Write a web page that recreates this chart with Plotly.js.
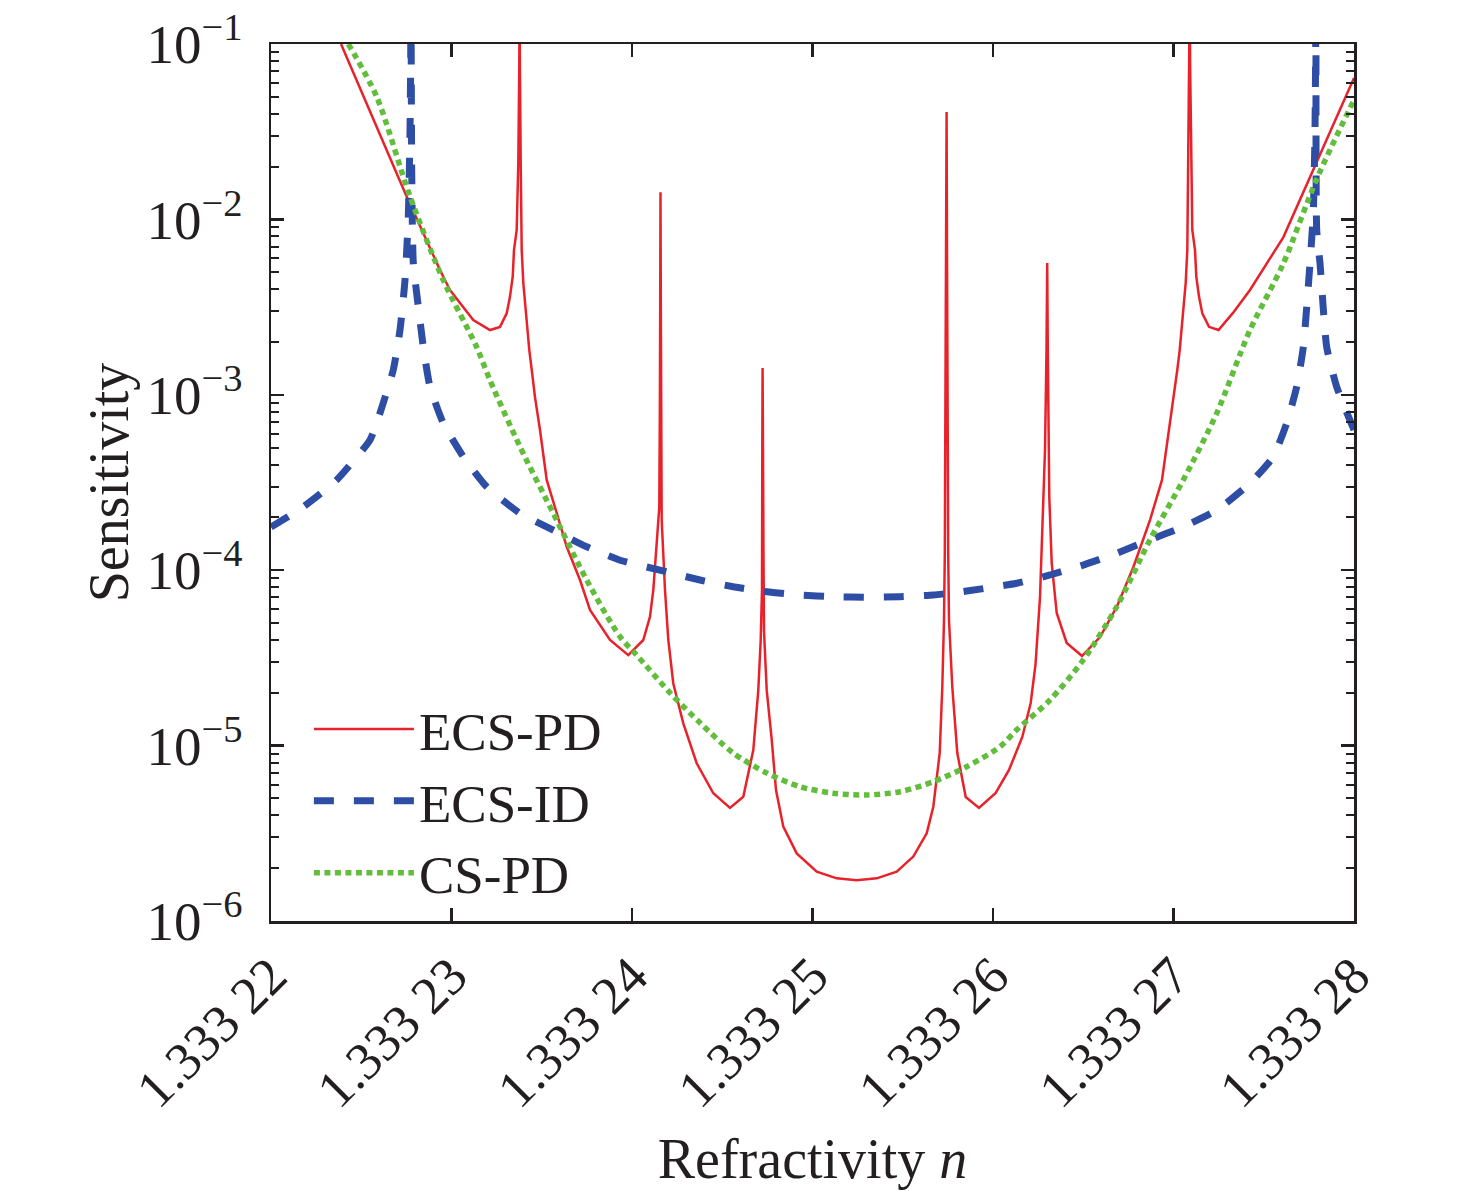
<!DOCTYPE html>
<html>
<head>
<meta charset="utf-8">
<script src="https://cdn.plot.ly/plotly-3.0.1.min.js"></script>
<style>
  html, body { margin: 0; padding: 0; background: #fff; }
  #graph { width: 1476px; height: 1191px; }
</style>
</head>
<body>
<div id="graph"></div>
<script>
// refractivity n (x) and sensitivity (y)
var ecsPdN = [
  1.333223878, 1.333225651, 1.333227424, 1.333229363, 1.333229917, 1.333230471, 1.333231208,
  1.333232133, 1.333232687, 1.333233058, 1.333233241, 1.333233391, 1.333233463, 1.333233612,
  1.333233701, 1.333233756, 1.333233773, 1.333233789, 1.333233834, 1.333233889, 1.333233978,
  1.333234127, 1.333234310, 1.333234443, 1.333234626, 1.333234903, 1.333235274, 1.333235828,
  1.333236382, 1.333237119, 1.333237673, 1.333238781, 1.333239795, 1.333240626, 1.333240997,
  1.333241180, 1.333241368, 1.333241512, 1.333241546, 1.333241568, 1.333241579, 1.333241596,
  1.333241618, 1.333241645, 1.333241828, 1.333242011, 1.333242288, 1.333242842, 1.333243584,
  1.333244504, 1.333245429, 1.333246166, 1.333246720, 1.333246997, 1.333247130, 1.333247202,
  1.333247219, 1.333247235, 1.333247258, 1.333247285, 1.333247313, 1.333247463, 1.333247740,
  1.333247978, 1.333248382, 1.333249125, 1.333250233, 1.333251341, 1.333252449, 1.333253557,
  1.333254665, 1.333255584, 1.333256327, 1.333256693, 1.333256970, 1.333257047, 1.333257191,
  1.333257285, 1.333257330, 1.333257374, 1.333257407, 1.333257429, 1.333257452, 1.333257479,
  1.333257518, 1.333257562, 1.333257745, 1.333258022, 1.333258488, 1.333259224, 1.333260150,
  1.333260886, 1.333261623, 1.333262089, 1.333262355, 1.333262604, 1.333262770, 1.333262881,
  1.333262964, 1.333263003, 1.333263036, 1.333263075, 1.333263119, 1.333263252, 1.333263529,
  1.333264083, 1.333264931, 1.333265928, 1.333266853, 1.333267773, 1.333268698, 1.333269363,
  1.333269751, 1.333270028, 1.333270211, 1.333270344, 1.333270526, 1.333270676, 1.333270765,
  1.333270831, 1.333270886, 1.333270903, 1.333270920, 1.333270970, 1.333271042, 1.333271191,
  1.333271263, 1.333271413, 1.333271596, 1.333271967, 1.333272493, 1.333273296, 1.333274238,
  1.333276083, 1.333277934, 1.33328
];
var ecsPdS = [
  1.0e-1, 3.8e-2, 1.42e-2, 5.14e-3, 3.96e-3, 3.34e-3, 2.67e-3,
  2.34e-3, 2.44e-3, 2.91e-3, 3.63e-3, 4.71e-3, 6.7e-3, 8.7e-3,
  2.1e-2, 7.8e-2, 2.0e-1, 7.8e-2, 2.1e-2, 6.7e-3, 4.34e-3,
  2.79e-3, 1.8e-3, 1.39e-3, 9.7e-4, 6.3e-4, 3.27e-4, 2.12e-4,
  1.36e-4, 8.79e-5, 5.93e-5, 4.0e-5, 3.28e-5, 4.0e-5, 5.43e-5,
  7.71e-5, 1.36e-4, 2.29e-4, 9.34e-4, 3.47e-3, 1.43e-2, 3.47e-3,
  9.34e-4, 1.93e-4, 7.7e-5, 4.0e-5, 2.26e-5, 1.34e-5, 7.93e-6,
  5.35e-6, 4.41e-6, 5.11e-6, 9.44e-6, 2.07e-5, 4.0e-5, 7.7e-5,
  4.84e-4, 1.42e-3, 4.84e-4, 1.25e-4, 4.5e-5, 2.07e-5, 1.08e-5,
  5.58e-6, 3.45e-6, 2.43e-6, 1.91e-6, 1.75e-6, 1.71e-6, 1.75e-6,
  1.91e-6, 2.33e-6, 3.16e-6, 4.48e-6, 8.28e-6, 9.07e-6, 2.16e-5,
  5.2e-5, 1.25e-4, 9.34e-4, 6.7e-3, 4.1e-2, 6.7e-3, 9.34e-4,
  1.25e-4, 5.2e-5, 2.16e-5, 9.07e-6, 5.09e-6, 4.41e-6, 5.37e-6,
  7.26e-6, 1.12e-5, 1.75e-5, 2.9e-5, 7.0e-5, 2.0e-4, 4.84e-4,
  1.8e-3, 5.64e-3, 1.8e-3, 4.84e-4, 2.61e-4, 1.1e-4, 5.7e-5,
  3.85e-5, 3.24e-5, 4.16e-5, 6.17e-5, 1.04e-4, 1.93e-4, 3.27e-4,
  6.3e-4, 9.7e-4, 1.39e-3, 1.8e-3, 2.79e-3, 4.34e-3, 6.7e-3,
  2.1e-2, 7.8e-2, 2.0e-1, 7.8e-2, 2.1e-2, 8.7e-3, 6.7e-3,
  4.71e-3, 3.63e-3, 2.91e-3, 2.44e-3, 2.34e-3, 2.93e-3, 3.96e-3,
  7.9e-3, 2.1e-2, 6.4e-2
];

var ecsIdN = [
  1.33322, 1.333221790, 1.333223640, 1.333225485, 1.333226039, 1.333226776, 1.333227147,
  1.333227424, 1.333227607, 1.333227701, 1.333227740, 1.333227756, 1.333227795, 1.333227884,
  1.333228161, 1.333228438, 1.333228809, 1.333229546, 1.333230654, 1.333231950, 1.333233795,
  1.333235640, 1.333237490, 1.333239335, 1.333241922, 1.333243767, 1.333245612, 1.333247463,
  1.333249307, 1.333251152, 1.333253003, 1.333254848, 1.333256693, 1.333258543, 1.333261313,
  1.333263158, 1.333265003, 1.333266853, 1.333268698, 1.333270543, 1.333272393, 1.333274238,
  1.333275529, 1.333276271, 1.333276825, 1.333277191, 1.333277562, 1.333277745, 1.333277839,
  1.333277878, 1.333277895, 1.333277934, 1.333278116, 1.333278488, 1.333279042, 1.33328
];
var ecsIdS = [
  1.76e-4, 2.3e-4, 3.27e-4, 5.53e-4, 7.87e-4, 1.39e-3, 2.34e-3,
  4.5e-3, 1.04e-2, 3.2e-2, 8.5e-2, 2.0e-1, 1.9e-2, 5.64e-3,
  3.18e-3, 1.87e-3, 1.11e-3, 6.88e-4, 4.44e-4, 2.99e-4, 2.11e-4,
  1.69e-4, 1.36e-4, 1.14e-4, 9.8e-5, 8.79e-5, 8.05e-5, 7.54e-5,
  7.22e-5, 7.06e-5, 7.01e-5, 7.06e-5, 7.22e-5, 7.61e-5, 8.42e-5,
  9.39e-5, 1.07e-4, 1.25e-4, 1.49e-4, 1.77e-4, 2.2e-4, 3.13e-4,
  4.44e-4, 6.88e-4, 1.11e-3, 1.87e-3, 5.62e-3, 1.09e-2, 3.2e-2,
  9.6e-2, 2.0e-1, 8.7e-3, 5.64e-3, 1.87e-3, 1.11e-3, 6.3e-4
];

var csPdN = [
  1.333224283, 1.333225856, 1.333227701, 1.333229546, 1.333231396, 1.333232133, 1.333233795,
  1.333235640, 1.333237490, 1.333239335, 1.333240260, 1.333242105, 1.333243767, 1.333245612,
  1.333247463, 1.333249307, 1.333251152, 1.333253003, 1.333254848, 1.333256693, 1.333258543,
  1.333260388, 1.333261313, 1.333263158, 1.333265003, 1.333266853, 1.333268698, 1.333270543,
  1.333272393, 1.333274238, 1.333276083, 1.333277934, 1.33328
];
var csPdS = [
  1.0e-1, 5.0e-2, 1.35e-2, 4.5e-3, 1.87e-3, 1.21e-3, 5.06e-4,
  2.11e-4, 8.79e-5, 4.18e-5, 3.28e-5, 2.0e-5, 1.35e-5, 9.07e-6,
  6.98e-6, 5.83e-6, 5.35e-6, 5.23e-6, 5.46e-6, 6.23e-6, 7.58e-6,
  9.86e-6, 1.23e-5, 1.82e-5, 3.08e-5, 6.19e-5, 1.49e-4, 3.27e-4,
  7.84e-4, 2.34e-3, 5.6e-3, 1.7e-2, 4.8e-2
];

var xTickVals = [1.33322, 1.33323, 1.33324, 1.33325, 1.33326, 1.33327, 1.33328];
var xTickText = ['1.333 22', '1.333 23', '1.333 24', '1.333 25', '1.333 26', '1.333 27', '1.333 28'];
var yTickVals = [1e-6, 1e-5, 1e-4, 1e-3, 1e-2, 1e-1];
var yTickText = ['10<sup>−6</sup>', '10<sup>−5</sup>', '10<sup>−4</sup>', '10<sup>−3</sup>', '10<sup>−2</sup>', '10<sup>−1</sup>'];

var yMinor = [];
yTickVals.slice(0, 5).forEach(function(v) {
    for (var k = 2; k <= 9; k++) yMinor.push(k * v);
});

var FONT = 'Liberation Serif, Times New Roman, serif';

var traces = [
    {x: ecsPdN, y: ecsPdS, mode: 'lines', type: 'scatter', name: 'ECS-PD',
     line: {color: '#e8222a', width: 2.5}},
    {x: ecsIdN, y: ecsIdS, mode: 'lines', type: 'scatter', name: 'ECS-ID',
     line: {color: '#2e4ea6', width: 7, dash: '20px,20px', shape: 'spline', smoothing: 0.5}},
    {x: csPdN, y: csPdS, mode: 'lines', type: 'scatter', name: 'CS-PD',
     line: {color: '#63bd3c', width: 5.5, dash: '6px,4.5px', shape: 'spline', smoothing: 0.8}}
];

var axisCommon = {
    showline: true, linecolor: '#231f20', linewidth: 2.5, mirror: 'ticks',
    ticks: 'inside', tickcolor: '#231f20', tickwidth: 2.5,
    showgrid: false, zeroline: false
};

var layout = {
    width: 1476, height: 1191,
    margin: {l: 271, r: 122, t: 44, b: 270},
    paper_bgcolor: '#fff', plot_bgcolor: '#fff',
    font: {family: FONT, color: '#231f20'},
    showlegend: true,
    legend: {
        x: 0.035, y: 0.008, xanchor: 'left', yanchor: 'bottom',
        bgcolor: 'rgba(0,0,0,0)', borderwidth: 0,
        itemwidth: 100, tracegroupgap: 0,
        font: {family: FONT, size: 53, color: '#231f20'}
    },
    xaxis: Object.assign({}, axisCommon, {
        range: [1.33322, 1.33328],
        tickmode: 'array', tickvals: xTickVals, ticktext: xTickText,
        tickangle: -45, ticklen: 13,
        tickfont: {family: FONT, size: 53, color: '#231f20'},
        title: {text: 'Refractivity <i>n</i>', font: {family: FONT, size: 56}, standoff: 22}
    }),
    yaxis: Object.assign({}, axisCommon, {
        type: 'log', range: [-6, -1],
        tickmode: 'array', tickvals: yTickVals, ticktext: yTickText,
        ticklen: 13, ticklabelstandoff: 15,
        tickfont: {family: FONT, size: 55, color: '#231f20'},
        minor: {tickmode: 'array', tickvals: yMinor, ticks: 'inside', ticklen: 8,
                tickwidth: 2, tickcolor: '#231f20', showgrid: false},
        title: {text: 'Sensitivity', font: {family: FONT, size: 56}, standoff: 0}
    })
};

Plotly.newPlot('graph', traces, layout, {staticPlot: true});
</script>
</body>
</html>
